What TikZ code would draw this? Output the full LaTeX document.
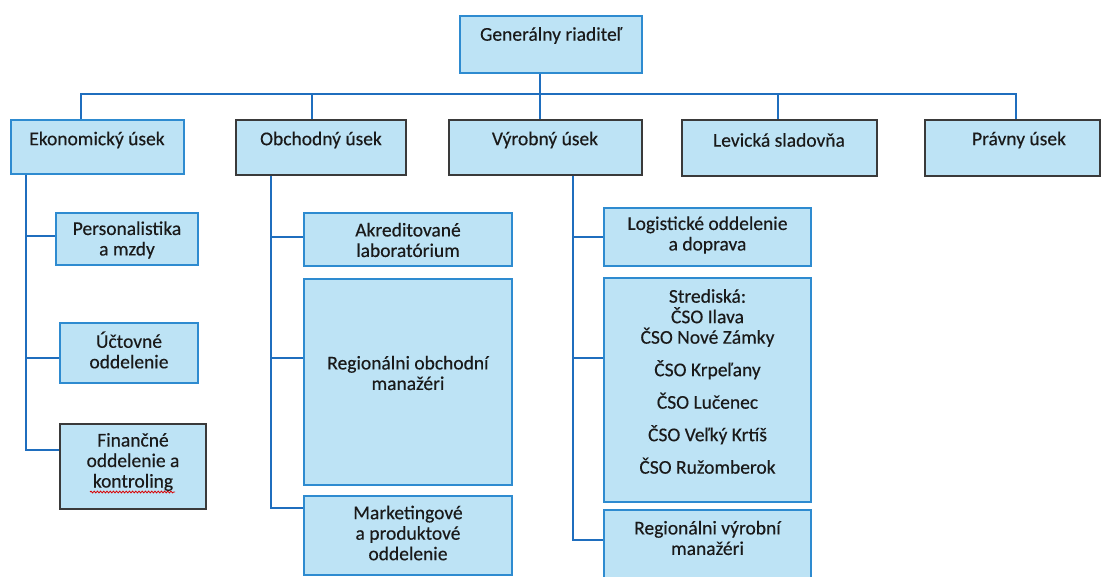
\documentclass[tikz,border=0pt]{standalone}
\usepackage{fontspec}
\setmainfont{Carlito}[FakeBold=0.35]
\usetikzlibrary{decorations.pathmorphing}
\definecolor{boxfill}{HTML}{BDE3F5}
\definecolor{boxblue}{HTML}{2E8BD0}
\definecolor{boxdark}{HTML}{3A3A3A}
\definecolor{linkc}{HTML}{1F6EBE}
\definecolor{txtc}{HTML}{1A1A1A}
\begin{document}
\begin{tikzpicture}[x=1pt,y=-1pt,
  box/.style={draw=boxblue, fill=boxfill, line width=1.3pt, inner sep=0pt},
  darkbox/.style={box, draw=boxdark},
  lbl/.style={font=\fontsize{19.5}{20.5}\selectfont, text=txtc, align=center, inner sep=0pt},
  link/.style={draw=linkc, line width=2.6pt},
]
\useasboundingbox (0,0) rectangle (1104,577);
\fill[white] (0,0) rectangle (1104,577);

% boxes
\node[box, minimum width=182pt, minimum height=57pt] (gen) at (551,44.5) {};
\node[box, minimum width=173pt, minimum height=54pt] (ekon) at (97.5,147) {};
\node[darkbox, minimum width=170pt, minimum height=55pt] (obch) at (321,147.5) {};
\node[darkbox, minimum width=193pt, minimum height=55pt] (vyr) at (545.5,147.5) {};
\node[darkbox, minimum width=195pt, minimum height=56pt] (lev) at (779.5,148) {};
\node[darkbox, minimum width=175pt, minimum height=56pt] (prav) at (1012.5,148) {};

\node[box, minimum width=142pt, minimum height=52pt] (pers) at (127,239) {};
\node[box, minimum width=138pt, minimum height=60pt] (uct) at (129,353) {};
\node[darkbox, minimum width=146pt, minimum height=85pt] (fin) at (133,466.5) {};

\node[box, minimum width=208pt, minimum height=53pt] (akr) at (408,239.5) {};
\node[box, minimum width=208pt, minimum height=206pt] (rego) at (408,382) {};
\node[box, minimum width=208pt, minimum height=79pt] (mark) at (408,535.5) {};

\node[box, minimum width=207pt, minimum height=58pt] (log) at (707.5,237) {};
\node[box, minimum width=207pt, minimum height=224pt] (stred) at (707.5,390) {};
\node[box, minimum width=207pt, minimum height=85pt] (regv) at (707.5,552.5) {};

% texts
\node[lbl] (gent) at (551,35.5) {Generálny riaditeľ};
\node[lbl] (ekont) at (97,140) {Ekonomický úsek};
\node[lbl] (obcht) at (321,140) {Obchodný úsek};
\node[lbl] (vyrt) at (545,140) {Výrobný úsek};
\node[lbl] (levt) at (779,140) {Levická sladovňa};
\node[lbl] (pravt) at (1019,140) {Právny úsek};
\node[lbl] (perst) at (127,240) {Personalistika\\a mzdy};
\node[lbl] (uctt) at (129,350) {Účtovné\\oddelenie};
\node[lbl] (fint) at (133,462) {Finančné\\oddelenie a\\kontroling};
\node[lbl] (akrt) at (408,240) {Akreditované\\laboratórium};
\node[lbl] (regot) at (408,373) {Regionálni obchodní\\manažéri};
\node[lbl] (markt) at (408,533) {Marketingové\\a produktové\\oddelenie};
\node[lbl] (logt) at (707.5,235) {Logistické oddelenie\\a doprava};
\node[lbl] (stredt) at (707.5,381.5) {Strediská:\\ČSO Ilava\\ČSO Nové Zámky\\[12pt]ČSO Krpeľany\\[12pt]ČSO Lučenec\\[12pt]ČSO Veľký Krtíš\\[12pt]ČSO Ružomberok};
\node[lbl] (regvt) at (707.5,538) {Regionálni výrobní\\manažéri};

% spell-check underline
\coordinate (ulA) at (90,492);
\coordinate (ulB) at (175,492);
\draw[red!85!black, line width=0.8pt, decorate, decoration={snake, amplitude=0.9pt, segment length=3.2pt}] (ulA) -- (ulB);

% top-level connectors
\coordinate (bl) at (81,94);
\coordinate (bo) at (312,94);
\coordinate (bg) at (540,94);
\coordinate (blev) at (778,94);
\coordinate (br) at (1016,94);
\draw[link] (bl |- ekon.north) -- (bl) -- (br) -- (br |- prav.north);
\draw[link] (bo) -- (bo |- obch.north);
\draw[link] (bg |- gen.south) -- (bg |- vyr.north);
\draw[link] (blev) -- (blev |- lev.north);

% Ekonomicky usek branch
\coordinate (ev) at (26,0);
\coordinate (pj) at ([yshift=3pt]pers.west);
\coordinate (uj) at ([yshift=-5pt]uct.west);
\coordinate (fj) at ([yshift=16.5pt]fin.west);
\draw[link] (ev |- ekon.south) -- (ev |- fj) -- (fj);
\draw[link] (ev |- pj) -- (pj);
\draw[link] (ev |- uj) -- (uj);

% Obchodny usek branch
\coordinate (ov) at (271,0);
\coordinate (aj) at ([yshift=2.5pt]akr.west);
\coordinate (rj) at ([yshift=24pt]rego.west);
\coordinate (mj) at ([yshift=27.5pt]mark.west);
\draw[link] (ov |- obch.south) -- (ov |- mj) -- (mj);
\draw[link] (ov |- aj) -- (aj);
\draw[link] (ov |- rj) -- (rj);

% Vyrobny usek branch
\coordinate (vv) at (573,0);
\coordinate (lj) at (log.west);
\coordinate (sj) at ([yshift=32pt]stred.west);
\coordinate (rvj) at ([yshift=12.5pt]regv.west);
\draw[link] (vv |- vyr.south) -- (vv |- rvj) -- (rvj);
\draw[link] (vv |- lj) -- (lj);
\draw[link] (vv |- sj) -- (sj);
\end{tikzpicture}
\end{document}
